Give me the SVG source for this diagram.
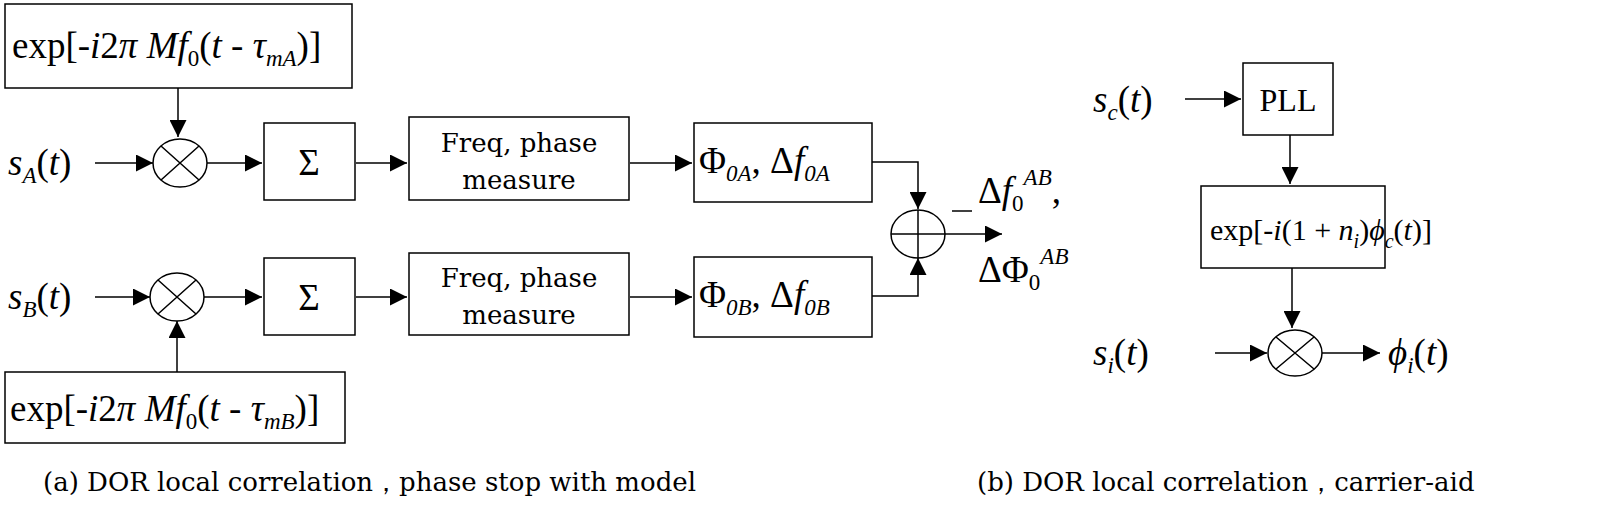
<svg xmlns="http://www.w3.org/2000/svg" width="1600" height="511" viewBox="0 0 1600 511" font-family="'Liberation Serif', serif">
<style>
.b{fill:#fff;stroke:#000;stroke-width:1.5}
.l{fill:none;stroke:#000;stroke-width:1.5}
text,tspan{font-family:"Liberation Serif",serif;fill:#000}
text{font-size:37px}
.i{font-style:italic}
.s{font-size:23px}
text.c,.c tspan{font-family:"DejaVu Serif",serif;font-size:26px}
</style>
<defs><marker id="a" viewBox="0 0 10 10" refX="10" refY="5" markerWidth="24" markerHeight="17" markerUnits="userSpaceOnUse" orient="auto"><path d="M0,0L10,5L0,10z"/></marker></defs>
<rect width="1600" height="511" fill="#fff"/>
<g id="connectors" class="l">
<path d="M178,88V137" marker-end="url(#a)"/>
<path d="M95,163H153" marker-end="url(#a)"/>
<path d="M207,163H262" marker-end="url(#a)"/>
<path d="M356,163H407" marker-end="url(#a)"/>
<path d="M630,163H692" marker-end="url(#a)"/>
<path d="M872,162H918V209" marker-end="url(#a)"/>
<path d="M95,297H150" marker-end="url(#a)"/>
<path d="M177,372V321" marker-end="url(#a)"/>
<path d="M204,297H262" marker-end="url(#a)"/>
<path d="M356,297H407" marker-end="url(#a)"/>
<path d="M630,297H692" marker-end="url(#a)"/>
<path d="M872,296H918V258" marker-end="url(#a)"/>
<path d="M945,234H1002" marker-end="url(#a)"/>
<path d="M1185,99H1241" marker-end="url(#a)"/>
<path d="M1290,135V184" marker-end="url(#a)"/>
<path d="M1292,268V328" marker-end="url(#a)"/>
<path d="M1215,353H1267" marker-end="url(#a)"/>
<path d="M1322,353H1380" marker-end="url(#a)"/>
</g>
<g id="expA"><rect class="b" x="5" y="4" width="347" height="84"/>
<text x="12" y="58">exp[-<tspan class="i">i</tspan>2<tspan class="i">π Mf</tspan><tspan class="s" dy="8">0</tspan><tspan dy="-8">(</tspan><tspan class="i">t</tspan> - <tspan class="i">τ</tspan><tspan class="s i" dy="8">mA</tspan><tspan dy="-8">)]</tspan></text></g>
<g id="sA"><text x="8" y="175"><tspan class="i">s</tspan><tspan class="s i" dy="8">A</tspan><tspan dy="-8">(</tspan><tspan class="i">t</tspan>)</text></g>
<g id="mulA" class="l"><ellipse cx="180" cy="163" rx="27" ry="24"/><path d="M161,146L199,180M199,146L161,180"/></g>
<g id="sumA"><rect class="b" x="264" y="123" width="91" height="77"/><text x="309" y="175" text-anchor="middle">Σ</text></g>
<g id="freqA"><rect class="b" x="409" y="117" width="220" height="83"/><text class="c" x="519" y="152" text-anchor="middle">Freq, phase</text><text class="c" x="519" y="189" text-anchor="middle">measure</text></g>
<g id="phiA"><rect class="b" x="694" y="123" width="178" height="79"/><text x="699" y="173">Φ<tspan class="s i" dy="8">0A</tspan><tspan dy="-8">, Δ</tspan><tspan class="i">f</tspan><tspan class="s i" dy="8">0A</tspan></text></g>
<g id="sB"><text x="8" y="309"><tspan class="i">s</tspan><tspan class="s i" dy="8">B</tspan><tspan dy="-8">(</tspan><tspan class="i">t</tspan>)</text></g>
<g id="mulB" class="l"><ellipse cx="177" cy="297" rx="27" ry="24"/><path d="M158,280L196,314M196,280L158,314"/></g>
<g id="sumB"><rect class="b" x="264" y="258" width="91" height="77"/><text x="309" y="310" text-anchor="middle">Σ</text></g>
<g id="freqB"><rect class="b" x="409" y="253" width="220" height="82"/><text class="c" x="519" y="287" text-anchor="middle">Freq, phase</text><text class="c" x="519" y="324" text-anchor="middle">measure</text></g>
<g id="phiB"><rect class="b" x="694" y="257" width="178" height="80"/><text x="699" y="307">Φ<tspan class="s i" dy="8">0B</tspan><tspan dy="-8">, Δ</tspan><tspan class="i">f</tspan><tspan class="s i" dy="8">0B</tspan></text></g>
<g id="expB"><rect class="b" x="5" y="372" width="340" height="71"/>
<text x="10" y="421">exp[-<tspan class="i">i</tspan>2<tspan class="i">π Mf</tspan><tspan class="s" dy="8">0</tspan><tspan dy="-8">(</tspan><tspan class="i">t</tspan> - <tspan class="i">τ</tspan><tspan class="s i" dy="8">mB</tspan><tspan dy="-8">)]</tspan></text></g>
<g id="adder" class="l"><ellipse cx="918" cy="234" rx="27" ry="24"/><path d="M891,234H945M918,210V258"/><path d="M952,211H972"/></g>
<g id="out"><text x="978" y="203">Δ<tspan class="i">f</tspan><tspan class="s" dy="8">0</tspan><tspan class="s i" dy="-26">AB</tspan><tspan dy="18">,</tspan></text>
<text x="978" y="282">ΔΦ<tspan class="s" dy="8">0</tspan><tspan class="s i" dy="-26">AB</tspan></text></g>
<g id="sc"><text x="1093" y="112"><tspan class="i">s</tspan><tspan class="s i" dy="8">c</tspan><tspan dy="-8">(</tspan><tspan class="i">t</tspan>)</text></g>
<g id="pll"><rect class="b" x="1243" y="63" width="90" height="72"/><text x="1288" y="111" text-anchor="middle" style="font-size:32px">PLL</text></g>
<g id="expC"><rect class="b" x="1201" y="186" width="184" height="82"/><text x="1210" y="240" style="font-size:30px">exp[-<tspan class="i">i</tspan>(1 + <tspan class="i">n</tspan><tspan class="s i" dy="8" style="font-size:20px">i</tspan><tspan dy="-8">)</tspan><tspan class="i">ϕ</tspan><tspan class="s i" dy="8" style="font-size:20px">c</tspan><tspan dy="-8">(</tspan><tspan class="i">t</tspan>)]</text></g>
<g id="si"><text x="1093" y="365"><tspan class="i">s</tspan><tspan class="s i" dy="8">i</tspan><tspan dy="-8">(</tspan><tspan class="i">t</tspan>)</text></g>
<g id="mulC" class="l"><ellipse cx="1295" cy="353" rx="27" ry="23"/><path d="M1276,337L1314,369M1314,337L1276,369"/></g>
<g id="phii"><text x="1388" y="365"><tspan class="i">ϕ</tspan><tspan class="s i" dy="8">i</tspan><tspan dy="-8">(</tspan><tspan class="i">t</tspan>)</text></g>
<text class="c" x="43" y="491">(a) DOR local correlation，phase stop with model</text>
<text class="c" x="977" y="491">(b) DOR local correlation，carrier-aid</text>
</svg>
